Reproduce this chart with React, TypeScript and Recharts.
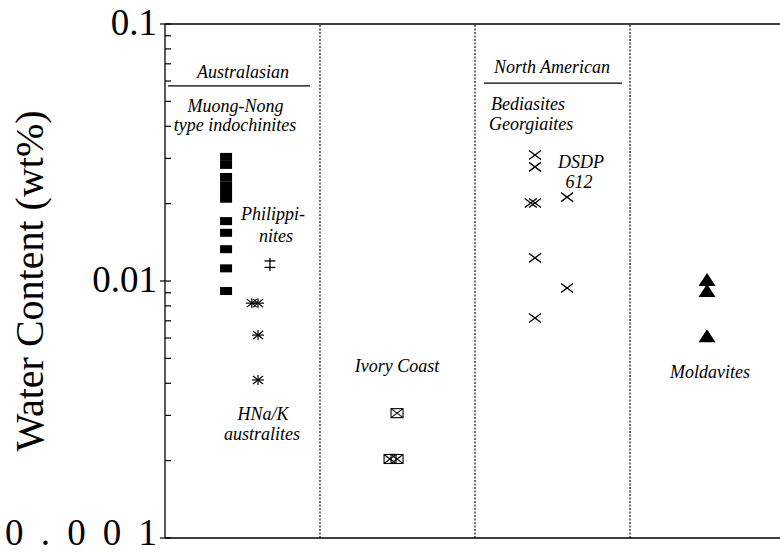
import React from "react";
import {
  ScatterChart,
  Scatter,
  XAxis,
  YAxis,
  ReferenceLine,
  Label,
} from "recharts";

// Water content (wt%) per group
const MUONG_NONG = [0.0304, 0.0283, 0.0254, 0.0236, 0.0222, 0.0209, 0.0171, 0.0154, 0.0133, 0.0112, 0.00914];
const PHILIPPINITES = [0.0116];
const AUSTRALITES_A = [0.0082, 0.00616, 0.00412];
const AUSTRALITES_B = [0.0082];
const IVORY_COAST_A = [0.00306, 0.00203];
const IVORY_COAST_B = [0.00203];
const BEDIASITES_A = [0.0309, 0.0278, 0.0201, 0.0123, 0.00718];
const BEDIASITES_B = [0.0201];
const DSDP_612 = [0.0212, 0.0094];
const MOLDAVITES = [0.0101, 0.00914, 0.0061];

// column positions on the x scale (one unit per panel)
const COL = {
  muongNong: 0.394,
  philippinites: 0.677,
  australitesA: 0.6,
  australitesB: 0.56,
  ivoryA: 1.497,
  ivoryB: 1.452,
  bediasitesA: 2.387,
  bediasitesB: 2.36,
  dsdp: 2.594,
  moldavites: 3.497,
};

const PANEL_BOUNDS = [1, 2, 3];
const Y_MAJOR = [0.001, 0.01, 0.1];
const Y_TICKS = [
  0.001, 0.002, 0.003, 0.004, 0.005, 0.006, 0.007, 0.008, 0.009,
  0.01, 0.02, 0.03, 0.04, 0.05, 0.06, 0.07, 0.08, 0.09, 0.1,
];

type Note = { x: number; y: number; text: string; anchor: string };
const NOTES: Note[] = [
  { x: 0.503, y: 0.0616, text: "Australasian", anchor: "middle" },
  { x: 0.455, y: 0.0455, text: "Muong-Nong", anchor: "middle" },
  { x: 0.452, y: 0.0384, text: "type indochinites", anchor: "middle" },
  { x: 0.697, y: 0.01726, text: "Philippi-", anchor: "middle" },
  { x: 0.716, y: 0.01419, text: "nites", anchor: "middle" },
  { x: 0.632, y: 0.00288, text: "HNa/K", anchor: "middle" },
  { x: 0.626, y: 0.00241, text: "australites", anchor: "middle" },
  { x: 1.497, y: 0.00443, text: "Ivory Coast", anchor: "middle" },
  { x: 2.497, y: 0.0645, text: "North American", anchor: "middle" },
  { x: 2.103, y: 0.0463, text: "Bediasites", anchor: "start" },
  { x: 2.09, y: 0.0387, text: "Georgiaites", anchor: "start" },
  { x: 2.684, y: 0.0275, text: "DSDP", anchor: "middle" },
  { x: 2.671, y: 0.023, text: "612", anchor: "middle" },
  { x: 3.516, y: 0.0042, text: "Moldavites", anchor: "middle" },
];

const UNDERLINES = [
  { x1: 0.019, x2: 0.935, y: 0.0574 },
  { x1: 2.058, x2: 2.948, y: 0.0589 },
];

const SERIF = "'Liberation Serif', 'Times New Roman', serif";

const pts = (xs: number, ys: number[]) => ys.map((y) => ({ x: xs, y }));

const FilledRect = ({ cx, cy }: any) => (
  <rect x={cx - 6} y={cy - 4} width={12} height={8} fill="#000" />
);

const DoubleDagger = ({ cx, cy }: any) => (
  <g stroke="#000" strokeWidth={1.3}>
    <line x1={cx} y1={cy - 6.5} x2={cx} y2={cy + 6.5} />
    <line x1={cx - 5.5} y1={cy - 3.5} x2={cx + 5.5} y2={cy - 3.5} />
    <line x1={cx - 5.5} y1={cy + 3} x2={cx + 5.5} y2={cy + 3} />
  </g>
);

const Asterisk = ({ cx, cy }: any) => (
  <g stroke="#000" strokeWidth={1.2}>
    <line x1={cx - 6} y1={cy} x2={cx + 6} y2={cy} />
    <line x1={cx} y1={cy - 5} x2={cx} y2={cy + 5} />
    <line x1={cx - 5} y1={cy - 4} x2={cx + 5} y2={cy + 4} />
    <line x1={cx - 5} y1={cy + 4} x2={cx + 5} y2={cy - 4} />
  </g>
);

const BoxCross = ({ cx, cy }: any) => (
  <g stroke="#000" strokeWidth={1.1} fill="none">
    <rect x={cx - 6} y={cy - 4.5} width={12} height={9} />
    <line x1={cx - 6} y1={cy - 4.5} x2={cx + 6} y2={cy + 4.5} />
    <line x1={cx - 6} y1={cy + 4.5} x2={cx + 6} y2={cy - 4.5} />
  </g>
);

const Cross = ({ cx, cy }: any) => (
  <g stroke="#000" strokeWidth={1.3}>
    <line x1={cx - 6} y1={cy - 4.5} x2={cx + 6} y2={cy + 4.5} />
    <line x1={cx - 6} y1={cy + 4.5} x2={cx + 6} y2={cy - 4.5} />
  </g>
);

const Triangle = ({ cx, cy }: any) => (
  <polygon
    points={`${cx - 8.5},${cy + 6} ${cx + 8.5},${cy + 6} ${cx},${cy - 7}`}
    fill="#000"
  />
);

const NoteText = ({ cx, cy, payload }: any) => (
  <text
    x={cx}
    y={cy}
    textAnchor={payload.anchor}
    fontFamily={SERIF}
    fontStyle="italic"
    fontSize={18}
    fill="#000"
  >
    {payload.text}
  </text>
);

// tick lines drawn here: majors cross the axis, minors point inward
const AxisTick = ({ x, y, payload }: any) => {
  const v = payload.value;
  const major = Y_MAJOR.some((m) => Math.abs(m - v) < 1e-9);
  const wide = v === 0.001;
  return (
    <g>
      <line
        x1={major ? x - 5 : x}
        y1={y}
        x2={x + 6}
        y2={y}
        stroke="#000"
        strokeWidth={1.2}
      />
      {major && (
        <text
          x={wide ? x - 160 : x - 8}
          y={y}
          dy={wide ? 7 : 11}
          textAnchor={wide ? "start" : "end"}
          fontFamily={SERIF}
          fontSize={37}
          textLength={wide ? 152 : undefined}
          lengthAdjust="spacing"
          fill="#000"
        >
          {String(v)}
        </text>
      )}
    </g>
  );
};

export default function App() {
  return (
    <div
      style={{
        position: "absolute",
        left: 0,
        top: 0,
        width: 780,
        height: 554,
        overflow: "hidden",
        background: "#fff",
      }}
    >
      <ScatterChart
        width={800}
        height={554}
        margin={{ top: 24, right: 15, bottom: 0, left: 0 }}
      >
        <XAxis
          type="number"
          dataKey="x"
          domain={[0, 4]}
          ticks={PANEL_BOUNDS}
          tick={false}
          tickSize={6}
          height={16}
          axisLine={{ stroke: "#000", strokeWidth: 1.3 }}
          tickLine={{ stroke: "#000" }}
          allowDataOverflow
        />
        <YAxis
          yAxisId="main"
          type="number"
          dataKey="y"
          scale="log"
          domain={[0.001, 0.1]}
          ticks={Y_TICKS}
          interval={0}
          tick={<AxisTick />}
          tickSize={0}
          tickMargin={0}
          tickLine={false}
          width={165}
          axisLine={{ stroke: "#000", strokeWidth: 1.3 }}
          allowDataOverflow
        >
          <Label
            value="Water Content (wt%)"
            angle={-90}
            position="insideLeft"
            offset={29}
            style={{
              textAnchor: "middle",
              fontFamily: SERIF,
              fontSize: 40,
              fill: "#000",
            }}
          />
        </YAxis>
        <ReferenceLine yAxisId="main" y={0.1} stroke="#000" strokeWidth={1.3} />
        {PANEL_BOUNDS.map((b) => (
          <ReferenceLine
            key={b}
            yAxisId="main"
            x={b}
            stroke="#111"
            strokeWidth={1.2}
            strokeDasharray="2 1.5"
          />
        ))}
        {UNDERLINES.map((u, i) => (
          <ReferenceLine
            key={`u${i}`}
            yAxisId="main"
            segment={[
              { x: u.x1, y: u.y },
              { x: u.x2, y: u.y },
            ]}
            stroke="#000"
            strokeWidth={1.2}
          />
        ))}
        <Scatter yAxisId="main" data={pts(COL.muongNong, MUONG_NONG)} shape={<FilledRect />} isAnimationActive={false} />
        <Scatter yAxisId="main" data={pts(COL.philippinites, PHILIPPINITES)} shape={<DoubleDagger />} isAnimationActive={false} />
        <Scatter yAxisId="main" data={pts(COL.australitesA, AUSTRALITES_A)} shape={<Asterisk />} isAnimationActive={false} />
        <Scatter yAxisId="main" data={pts(COL.australitesB, AUSTRALITES_B)} shape={<Asterisk />} isAnimationActive={false} />
        <Scatter yAxisId="main" data={pts(COL.ivoryA, IVORY_COAST_A)} shape={<BoxCross />} isAnimationActive={false} />
        <Scatter yAxisId="main" data={pts(COL.ivoryB, IVORY_COAST_B)} shape={<BoxCross />} isAnimationActive={false} />
        <Scatter yAxisId="main" data={pts(COL.bediasitesA, BEDIASITES_A)} shape={<Cross />} isAnimationActive={false} />
        <Scatter yAxisId="main" data={pts(COL.bediasitesB, BEDIASITES_B)} shape={<Cross />} isAnimationActive={false} />
        <Scatter yAxisId="main" data={pts(COL.dsdp, DSDP_612)} shape={<Cross />} isAnimationActive={false} />
        <Scatter yAxisId="main" data={pts(COL.moldavites, MOLDAVITES)} shape={<Triangle />} isAnimationActive={false} />
        <Scatter yAxisId="main" data={NOTES} shape={<NoteText />} isAnimationActive={false} />
      </ScatterChart>
    </div>
  );
}
